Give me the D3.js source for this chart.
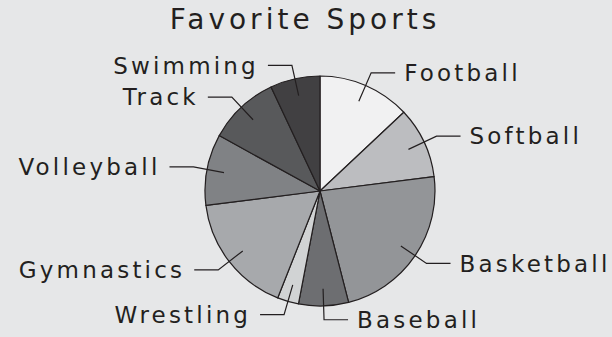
<!DOCTYPE html>
<html>
<head>
<meta charset="utf-8">
<script src="https://cdn.jsdelivr.net/npm/d3@7"></script>
<style>
  html, body { margin: 0; padding: 0; background: #e6e7e8; }
  svg { display: block; }
  text { font-family: "DejaVu Sans", sans-serif; fill: #231f20; }
</style>
</head>
<body>
<div class="chart"></div>
<script>
// data (percent of votes)
const sports = ["Football", "Softball", "Basketball", "Baseball", "Wrestling",
  "Gymnastics", "Volleyball", "Track", "Swimming"];
const votes = [13, 10, 23, 7, 3, 17, 10, 10, 7];
const shades = ["#f1f1f2", "#bcbdc0", "#939598", "#6d6e71", "#d1d3d4",
  "#a7a9ac", "#808285", "#58595b", "#414042"];

const width = 612, height = 337;
const cx = 320, cy = 191, radius = 115;

const svg = d3.select(".chart")
  .append("svg")
  .attr("width", width)
  .attr("height", height);

svg.append("rect")
  .attr("width", width)
  .attr("height", height)
  .attr("fill", "#e6e7e8");

// title
svg.append("text")
  .attr("x", 305)
  .attr("y", 29)
  .attr("text-anchor", "middle")
  .attr("font-size", 28)
  .attr("letter-spacing", 4)
  .text("Favorite Sports");

const dataset = sports.map((name, i) => ({ name, value: votes[i], color: shades[i] }));

const pie = d3.pie().sort(null).value((d) => d.value);
const arcs = pie(dataset);

const arc = d3.arc().innerRadius(0).outerRadius(radius);

const g = svg.append("g").attr("transform", `translate(${cx},${cy})`);

g.selectAll(".slice")
  .data(arcs)
  .enter()
  .append("path")
  .attr("class", "slice")
  .attr("d", arc)
  .attr("fill", (d) => d.data.color)
  .attr("stroke", "#231f20")
  .attr("stroke-width", 1.2)
  .attr("stroke-linejoin", "round");

// leader lines + labels
const innerR = radius * 0.85;
const elbowR = radius * 1.12;
const tail = 24;
const gap = 9;

function polar(a, r) {
  return [Math.sin(a) * r, -Math.cos(a) * r];
}

arcs.forEach((d) => {
  const mid = (d.startAngle + d.endAngle) / 2;
  const right = mid < Math.PI;
  const p0 = polar(mid, innerR);
  const p1 = polar(mid, elbowR);
  const p2 = [p1[0] + (right ? tail : -tail), p1[1]];

  g.append("polyline")
    .attr("points", [p0, p1, p2].map((p) => p.join(",")).join(" "))
    .attr("fill", "none")
    .attr("stroke", "#231f20")
    .attr("stroke-width", 1.2);

  g.append("text")
    .attr("x", p2[0] + (right ? gap : -gap))
    .attr("y", p2[1])
    .attr("dy", "0.36em")
    .attr("text-anchor", right ? "start" : "end")
    .attr("font-size", 23)
    .attr("letter-spacing", 3.2)
    .text(d.data.name);
});
</script>
</body>
</html>
